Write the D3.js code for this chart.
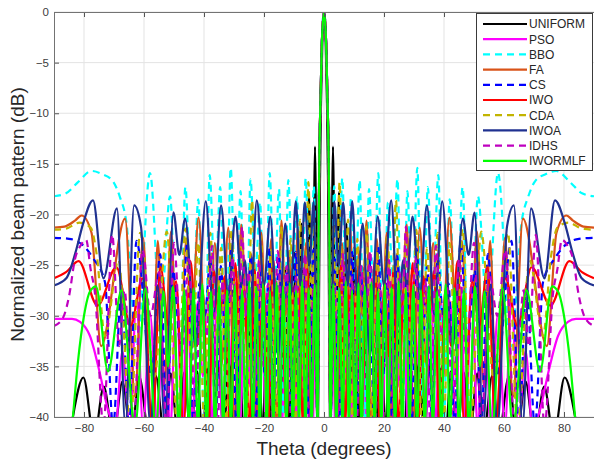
<!DOCTYPE html>
<html>
<head>
<meta charset="utf-8">
<script src="https://d3js.org/d3.v7.min.js"></script>
<style>
  body { margin: 0; background: #fff; }
  svg { display: block; font-family: "Liberation Sans", Arial, Helvetica, sans-serif; }
</style>
</head>
<body>
<div id="chart"></div>
<script>
// beam patterns, [theta (deg), level (dB)]
const uniform = [[-90,-52],[-86.5,-46],[-83.7,-40],[-80.2,-36.1],[-76.6,-42],[-73.4,-37],[-70.2,-42],[-67.2,-36.5],[-64.2,-42],[-61.6,-36],[-58.2,-42],[-56.1,-35.9],[-53.1,-42],[-51.1,-35.7],[-48.6,-42],[-46.6,-35.6],[-44.4,-42],[-42.3,-35.5],[-40.5,-42],[-38.7,-35.2],[-36.9,-42],[-35.2,-34.7],[-33.4,-42],[-31.7,-33.7],[-30,-42],[-28.4,-32.6],[-26.7,-42],[-25.1,-31.4],[-23.6,-42],[-22,-30],[-20.5,-42],[-18.9,-28.6],[-17.5,-42],[-15.9,-27],[-14.5,-42],[-12.9,-25.2],[-11.5,-42],[-10.1,-23.2],[-8.8,-42],[-7.5,-20.9],[-6.2,-42],[-5,-17.8],[-3.9,-42],[-3,-13.3],[-2.1,-42],[-1.7,-30],[-1.4,-18],[-1,-9],[-0.6,-3.4],
  [0,0],[0.6,-3.4],[1,-9],[1.4,-18],[1.7,-30],[2.1,-42],[3,-13.3],[3.9,-42],[5,-17.8],[6.2,-42],[7.5,-20.9],[8.8,-42],[10.1,-23.2],[11.5,-42],[12.9,-25.2],[14.5,-42],[15.9,-27],[17.5,-42],[18.9,-28.6],[20.5,-42],[22,-30],[23.6,-42],[25.1,-31.4],[26.7,-42],[28.4,-32.6],[30,-42],[31.7,-33.7],[33.4,-42],[35.2,-34.7],[36.9,-42],[38.7,-35.2],[40.5,-42],[42.3,-35.5],[44.4,-42],[46.6,-35.6],[48.6,-42],[51.1,-35.7],[53.1,-42],[56.1,-35.9],[58.2,-42],[61.6,-36],[64.2,-42],[67.2,-36.5],[70.2,-42],[73.4,-37],[76.6,-42],[80.2,-36.1],[83.7,-40],[86.5,-46],[90,-52]];

const pso = [[-90,-30.3],[-84,-30.3],[-81.3,-30.6],[-78,-32],[-74.7,-35.7],[-72,-39.3],[-69.5,-41],[-67.2,-33.5],[-64.8,-41],[-62.5,-28.3],[-60.3,-41],[-58,-29.8],[-55.5,-41],[-53.5,-27.2],[-51.2,-41],[-49.2,-26.9],[-47.3,-41],[-45.5,-27.2],[-43.9,-41],[-42.1,-28.6],[-40.4,-36],[-38.8,-27.9],[-37.2,-41],[-35.5,-25.8],[-33.9,-41],[-32.3,-29.4],[-30.8,-35],[-29.4,-26.7],[-28,-41],[-26.5,-27.6],[-25,-37],[-23.5,-25.4],[-22.2,-41],[-20.8,-29.1],[-19.3,-41],[-17.8,-26.3],[-16.6,-34],[-15.3,-28.2],[-14,-41],[-12.6,-25.7],[-11.4,-36],[-10.2,-28.8],[-9,-41],[-7.7,-26.5],[-6.5,-41],[-5.1,-29],[-3.9,-44],[-3,-31],[-2.1,-41],[-1.8,-22],[-1.5,-13.5],[-1.1,-8],[-0.7,-3],
  [0,0],[0.7,-3],[1.1,-8],[1.5,-13.5],[1.8,-22],[2.1,-41],[3,-31],[3.9,-44],[5.1,-29],[6.5,-41],[7.7,-26.5],[9,-41],[10.2,-28.8],[11.4,-36],[12.6,-25.7],[14,-41],[15.3,-28.2],[16.6,-34],[17.8,-26.3],[19.3,-41],[20.8,-29.1],[22.2,-41],[23.5,-25.4],[25,-37],[26.5,-27.6],[28,-41],[29.4,-26.7],[30.8,-35],[32.3,-29.4],[33.9,-41],[35.5,-25.8],[37.2,-41],[38.8,-27.9],[40.4,-36],[42.1,-28.6],[43.9,-41],[45.5,-27.2],[47.3,-41],[49.2,-26.9],[51.2,-41],[53.5,-27.2],[55.5,-41],[58,-29.8],[60.3,-41],[62.5,-28.3],[64.8,-41],[67.2,-33.5],[69.5,-41],[72,-39.3],[74.7,-35.7],[78,-32],[81.3,-30.6],[84,-30.3],[90,-30.3]];

const bbo = [[-90,-18.2],[-86,-17.9],[-82,-16.8],[-77.5,-15.7],[-74,-16],[-70.4,-16.7],[-68,-18.3],[-66,-20.5],[-62.3,-33],[-58,-15.9],[-54.5,-30],[-51.3,-18.2],[-48.4,-41],[-46.2,-17.3],[-44,-33],[-41.9,-18.5],[-39.9,-41],[-38.1,-16.1],[-36.3,-28],[-34.6,-17.3],[-32.8,-38],[-31.1,-15.4],[-29.4,-31],[-27.8,-17.7],[-26.1,-41],[-24.5,-16.5],[-22.9,-26],[-21.3,-18.8],[-19.7,-36],[-18.1,-15.9],[-16.6,-29],[-15,-17.5],[-13.5,-41],[-11.9,-16.6],[-10.5,-27],[-9,-18.3],[-7.6,-34],[-6.1,-16.4],[-4.7,-30],[-3.4,-17.2],[-2.1,-41],[-1.8,-22],[-1.5,-13.5],[-1.1,-8],[-0.7,-3],
  [0,0],[0.7,-3],[1.1,-8],[1.5,-13.5],[1.8,-22],[2.1,-41],[3.4,-17.2],[4.7,-30],[6.1,-16.4],[7.6,-34],[9,-18.3],[10.5,-27],[11.9,-16.6],[13.5,-41],[15,-17.5],[16.6,-29],[18.1,-15.9],[19.7,-36],[21.3,-18.8],[22.9,-26],[24.5,-16.5],[26.1,-41],[27.8,-17.7],[29.4,-31],[31.1,-15.4],[32.8,-38],[34.6,-17.3],[36.3,-28],[38.1,-16.1],[39.9,-41],[41.9,-18.5],[44,-33],[46.2,-17.3],[48.4,-41],[51.3,-18.2],[54.5,-30],[58,-15.9],[62.3,-33],[66,-20.5],[68,-18.3],[70.4,-16.7],[74,-16],[77.5,-15.7],[82,-16.8],[86,-17.9],[90,-18.2]];

const fa = [[-90,-21.3],[-86.5,-21.2],[-83,-20.6],[-80.8,-20.1],[-77.5,-21.8],[-74.3,-33],[-66.3,-20.4],[-63,-38],[-60.3,-22.3],[-57.5,-41],[-55.4,-22.6],[-53.3,-37],[-51,-21.7],[-48.3,-41],[-46,-22.6],[-44,-30],[-41.8,-20.3],[-38.7,-41],[-36.4,-22.8],[-34.2,-35],[-31.9,-21.3],[-29.6,-41],[-27.6,-21],[-25.8,-30],[-24.2,-23.9],[-22.6,-41],[-20.9,-21.8],[-19.2,-34],[-17.6,-22.4],[-15.9,-41],[-14.2,-20.6],[-12.8,-30],[-11.6,-23.6],[-10.2,-41],[-8.8,-21.4],[-7.4,-33],[-6,-22.8],[-4.6,-41],[-3.3,-24.5],[-2.1,-41],[-1.8,-22],[-1.5,-13.5],[-1.1,-8],[-0.7,-3],
  [0,0],[0.7,-3],[1.1,-8],[1.5,-13.5],[1.8,-22],[2.1,-41],[3.3,-24.5],[4.6,-41],[6,-22.8],[7.4,-33],[8.8,-21.4],[10.2,-41],[11.6,-23.6],[12.8,-30],[14.2,-20.6],[15.9,-41],[17.6,-22.4],[19.2,-34],[20.9,-21.8],[22.6,-41],[24.2,-23.9],[25.8,-30],[27.6,-21],[29.6,-41],[31.9,-21.3],[34.2,-35],[36.4,-22.8],[38.7,-41],[41.8,-20.3],[44,-30],[46,-22.6],[48.3,-41],[51,-21.7],[53.3,-37],[55.4,-22.6],[57.5,-41],[60.3,-22.3],[63,-38],[66.3,-20.4],[74.3,-33],[77.5,-21.8],[80.8,-20.1],[83,-20.6],[86.5,-21.2],[90,-21.3]];

const cs = [[-90,-22.3],[-85,-22.4],[-80.5,-23],[-77,-24.3],[-73,-26.7],[-70.3,-41],[-67.5,-27],[-65,-41],[-62.5,-22.6],[-57.5,-36],[-54.6,-23.9],[-52.4,-41],[-50.3,-25.5],[-47.8,-33],[-45.5,-22.7],[-43.5,-41],[-41.5,-26.8],[-39.7,-30],[-37.9,-24.3],[-36.1,-41],[-34.4,-25.1],[-32.6,-35],[-30.9,-23.4],[-29.2,-41],[-27.6,-26.4],[-25.9,-31],[-24.3,-23.9],[-22.8,-41],[-21.2,-25.6],[-19.7,-36],[-18.1,-23.2],[-16.7,-41],[-15.1,-24.2],[-13.7,-31],[-12.2,-25.8],[-10.8,-41],[-9.4,-23.7],[-7.9,-34],[-6.4,-26],[-5,-41],[-3.6,-23.5],[-2.1,-41],[-1.8,-22],[-1.5,-13.5],[-1.1,-8],[-0.7,-3],
  [0,0],[0.7,-3],[1.1,-8],[1.5,-13.5],[1.8,-22],[2.1,-41],[3.6,-23.5],[5,-41],[6.4,-26],[7.9,-34],[9.4,-23.7],[10.8,-41],[12.2,-25.8],[13.7,-31],[15.1,-24.2],[16.7,-41],[18.1,-23.2],[19.7,-36],[21.2,-25.6],[22.8,-41],[24.3,-23.9],[25.9,-31],[27.6,-26.4],[29.2,-41],[30.9,-23.4],[32.6,-35],[34.4,-25.1],[36.1,-41],[37.9,-24.3],[39.7,-30],[41.5,-26.8],[43.5,-41],[45.5,-22.7],[47.8,-33],[50.3,-25.5],[52.4,-41],[54.6,-23.9],[57.5,-36],[62.5,-22.6],[65,-41],[67.5,-27],[70.3,-41],[73,-26.7],[77,-24.3],[80.5,-23],[85,-22.4],[90,-22.3]];

const iwo = [[-90,-26.3],[-86,-25.7],[-81.8,-24.6],[-75.5,-29],[-69.2,-25.2],[-64.5,-31],[-60.5,-26.3],[-57.2,-41],[-54.5,-25.2],[-51.8,-31],[-49.3,-26.6],[-46.8,-41],[-44.5,-24.6],[-42.4,-33],[-40.4,-27.5],[-38.6,-41],[-36.7,-25.6],[-34.9,-30.5],[-33.1,-26.1],[-31.4,-41],[-29.6,-24.8],[-28,-32],[-26.5,-27.4],[-24.9,-41],[-23.2,-25.3],[-21.6,-34],[-20.1,-26.5],[-18.6,-41],[-17,-24.4],[-15.5,-31],[-14,-27.8],[-12.5,-41],[-11,-25.6],[-9.7,-33],[-8.4,-27.3],[-7,-41],[-5.6,-24.7],[-4.2,-41],[-3,-26.4],[-2.1,-41],[-1.8,-22],[-1.5,-13.5],[-1.1,-8],[-0.7,-3],
  [0,0],[0.7,-3],[1.1,-8],[1.5,-13.5],[1.8,-22],[2.1,-41],[3,-26.4],[4.2,-41],[5.6,-24.7],[7,-41],[8.4,-27.3],[9.7,-33],[11,-25.6],[12.5,-41],[14,-27.8],[15.5,-31],[17,-24.4],[18.6,-41],[20.1,-26.5],[21.6,-34],[23.2,-25.3],[24.9,-41],[26.5,-27.4],[28,-32],[29.6,-24.8],[31.4,-41],[33.1,-26.1],[34.9,-30.5],[36.7,-25.6],[38.6,-41],[40.4,-27.5],[42.4,-33],[44.5,-24.6],[46.8,-41],[49.3,-26.6],[51.8,-31],[54.5,-25.2],[57.2,-41],[60.5,-26.3],[64.5,-31],[69.2,-25.2],[75.5,-29],[81.8,-24.6],[86,-25.7],[90,-26.3]];

const cda = [[-90,-21.5],[-86,-21.4],[-81.5,-20.8],[-77.8,-21.3],[-75.7,-24.1],[-73,-32],[-68.5,-24.5],[-64.5,-41],[-61.3,-21.8],[-56.5,-36],[-52.4,-21.7],[-48.9,-41],[-46.2,-21.4],[-44,-36],[-41.9,-22.8],[-39.9,-41],[-37.9,-21.8],[-36.1,-32],[-34.3,-23.3],[-32.6,-41],[-30.8,-21.5],[-29.2,-35],[-27.5,-22.7],[-25.8,-41],[-24,-18.6],[-22.5,-30],[-21.1,-22.1],[-19.4,-34],[-17.6,-23.5],[-15.9,-41],[-14.1,-21.2],[-12.6,-33],[-11.1,-22.4],[-9.6,-41],[-8,-20.5],[-6.6,-38],[-5.2,-16.8],[-4,-30],[-3.1,-21],[-2.1,-41],[-1.8,-22],[-1.5,-13.5],[-1.1,-8],[-0.7,-3],
  [0,0],[0.7,-3],[1.1,-8],[1.5,-13.5],[1.8,-22],[2.1,-41],[3.1,-21],[4,-30],[5.2,-16.8],[6.6,-38],[8,-20.5],[9.6,-41],[11.1,-22.4],[12.6,-33],[14.1,-21.2],[15.9,-41],[17.6,-23.5],[19.4,-34],[21.1,-22.1],[22.5,-30],[24,-18.6],[25.8,-41],[27.5,-22.7],[29.2,-35],[30.8,-21.5],[32.6,-41],[34.3,-23.3],[36.1,-32],[37.9,-21.8],[39.9,-41],[41.9,-22.8],[44,-36],[46.2,-21.4],[48.9,-41],[52.4,-21.7],[56.5,-36],[61.3,-21.8],[64.5,-41],[68.5,-24.5],[73,-32],[75.7,-24.1],[77.8,-21.3],[81.5,-20.8],[86,-21.4],[90,-21.5]];

const iwoa = [[-90,-27],[-85.9,-26.3],[-82.6,-23.5],[-80.3,-20.9],[-77,-18.6],[-73.5,-26.3],[-69,-19.4],[-66.2,-41],[-63.3,-19.1],[-61,-21.2],[-57.8,-41],[-55.5,-27],[-53,-41],[-50.2,-19.8],[-48.2,-24],[-46.3,-20.4],[-42.8,-33],[-39.4,-18.7],[-36.8,-30],[-34.3,-19.1],[-31.9,-28],[-29.5,-20.2],[-27.5,-27],[-26.4,-24.5],[-24.7,-31],[-22.4,-18.6],[-20,-27],[-17.9,-20.2],[-15.3,-34],[-12.9,-20.9],[-11.1,-28],[-9.4,-18.7],[-7.9,-27],[-6.4,-18.8],[-4.9,-25],[-3.4,-18.7],[-2.1,-41],[-1.8,-22],[-1.5,-13.5],[-1.1,-8],[-0.7,-3],
  [0,0],[0.7,-3],[1.1,-8],[1.5,-13.5],[1.8,-22],[2.1,-41],[3.4,-18.7],[4.9,-25],[6.4,-18.8],[7.9,-27],[9.4,-18.7],[11.1,-28],[12.9,-20.9],[15.3,-34],[17.9,-20.2],[20,-27],[22.4,-18.6],[24.7,-31],[26.4,-24.5],[27.5,-27],[29.5,-20.2],[31.9,-28],[34.3,-19.1],[36.8,-30],[39.4,-18.7],[42.8,-33],[46.3,-20.4],[48.2,-24],[50.2,-19.8],[53,-41],[55.5,-27],[57.8,-41],[61,-21.2],[63.3,-19.1],[66.2,-41],[69,-19.4],[73.5,-26.3],[77,-18.6],[80.3,-20.9],[82.6,-23.5],[85.9,-26.3],[90,-27]];

const idhs = [[-90,-31],[-87,-30.2],[-85,-28.1],[-83,-24.4],[-81,-23],[-79.3,-22.5],[-77.8,-25.4],[-76.3,-27.9],[-73.5,-41],[-70.6,-22],[-68.3,-33],[-66.5,-27.5],[-63.5,-41],[-60.5,-23.5],[-57.8,-30],[-55,-25.7],[-52.5,-41],[-50,-22.8],[-47.5,-34],[-45,-24.4],[-43,-41],[-41,-27.2],[-39.2,-32],[-37.3,-23.1],[-35.5,-41],[-33.8,-26.5],[-32.2,-33],[-30.4,-24.2],[-28.8,-41],[-27.3,-21.2],[-26.1,-30],[-25.2,-25.7],[-23.3,-41],[-21.7,-24.5],[-20.2,-35],[-18.6,-26.8],[-17.1,-41],[-15.4,-23.6],[-13.9,-31],[-12.4,-25.1],[-10.9,-41],[-9.3,-26.2],[-7.8,-33],[-6.3,-23.9],[-4.9,-41],[-3.5,-27],[-2.1,-41],[-1.8,-22],[-1.5,-13.5],[-1.1,-8],[-0.7,-3],
  [0,0],[0.7,-3],[1.1,-8],[1.5,-13.5],[1.8,-22],[2.1,-41],[3.5,-27],[4.9,-41],[6.3,-23.9],[7.8,-33],[9.3,-26.2],[10.9,-41],[12.4,-25.1],[13.9,-31],[15.4,-23.6],[17.1,-41],[18.6,-26.8],[20.2,-35],[21.7,-24.5],[23.3,-41],[25.2,-25.7],[26.1,-30],[27.3,-21.2],[28.8,-41],[30.4,-24.2],[32.2,-33],[33.8,-26.5],[35.5,-41],[37.3,-23.1],[39.2,-32],[41,-27.2],[43,-41],[45,-24.4],[47.5,-34],[50,-22.8],[52.5,-41],[55,-25.7],[57.8,-30],[60.5,-23.5],[63.5,-41],[66.5,-27.5],[68.3,-33],[70.6,-22],[73.5,-41],[76.3,-27.9],[77.8,-25.4],[79.3,-22.5],[81,-23],[83,-24.4],[85,-28.1],[87,-30.2],[90,-31]];

const iwormlf = [[-90,-52],[-85.5,-46],[-83.7,-40],[-82,-34.5],[-80,-30],[-78,-27.6],[-76,-27.1],[-72,-35.5],[-67.5,-27.5],[-63,-41],[-59.5,-27.3],[-56,-41],[-53.5,-27.6],[-52,-35],[-50.3,-27.1],[-48.3,-41],[-46.6,-27.5],[-45,-41],[-43.5,-27.3],[-42,-41],[-40.55,-26.9],[-39.1,-41],[-37.7,-27.6],[-36.3,-41],[-34.95,-27.1],[-33.6,-41],[-32.3,-27.5],[-31,-41],[-29.75,-27],[-28.5,-41],[-27.3,-27.4],[-26.1,-41],[-24.9,-26.6],[-23.7,-41],[-22.55,-27.2],[-21.4,-41],[-20.25,-26.9],[-19.1,-41],[-18,-27.6],[-16.9,-41],[-15.8,-26.7],[-14.7,-41],[-13.6,-27.1],[-12.5,-41],[-11.45,-26.8],[-10.4,-41],[-9.35,-27.5],[-8.3,-41],[-7.25,-26.6],[-6.2,-41],[-5.15,-27.3],[-4.1,-41],[-3.1,-26.9],[-2.1,-41],[-1.8,-22],[-1.5,-13.5],[-1.1,-8],[-0.7,-3],
  [0,0],[0.7,-3],[1.1,-8],[1.5,-13.5],[1.8,-22],[2.1,-41],[3.1,-26.9],[4.1,-41],[5.15,-27.3],[6.2,-41],[7.25,-26.6],[8.3,-41],[9.35,-27.5],[10.4,-41],[11.45,-26.8],[12.5,-41],[13.6,-27.1],[14.7,-41],[15.8,-26.7],[16.9,-41],[18,-27.6],[19.1,-41],[20.25,-26.9],[21.4,-41],[22.55,-27.2],[23.7,-41],[24.9,-26.6],[26.1,-41],[27.3,-27.4],[28.5,-41],[29.75,-27],[31,-41],[32.3,-27.5],[33.6,-41],[34.95,-27.1],[36.3,-41],[37.7,-27.6],[39.1,-41],[40.55,-26.9],[42,-41],[43.5,-27.3],[45,-41],[46.6,-27.5],[48.3,-41],[50.3,-27.1],[52,-35],[53.5,-27.6],[56,-41],[59.5,-27.3],[63,-41],[67.5,-27.5],[72,-35.5],[76,-27.1],[78,-27.6],[80,-30],[82,-34.5],[83.7,-40],[85.5,-46],[90,-52]];

const seriesNames = ["UNIFORM", "PSO", "BBO", "FA", "CS", "IWO", "CDA", "IWOA", "IDHS", "IWORMLF"];
const seriesData = [uniform, pso, bbo, fa, cs, iwo, cda, iwoa, idhs, iwormlf];
const xTicks = [-80, -60, -40, -20, 0, 20, 40, 60, 80];
const yTicks = [0, -5, -10, -15, -20, -25, -30, -35, -40];

// line styles, in legend order
const styles = [
  { color: "#000000", dash: null },
  { color: "#ff00ff", dash: null },
  { color: "#00ffff", dash: "7,5" },
  { color: "#d95319", dash: null },
  { color: "#0000ff", dash: "7,5" },
  { color: "#ff0000", dash: null },
  { color: "#c2b400", dash: "7,5" },
  { color: "#1f3190", dash: null },
  { color: "#bf00bf", dash: "7,5" },
  { color: "#00ff00", dash: null }
];

const W = 594, H = 465;
const pLeft = 54, pRight = 594, pTop = 12, pBottom = 417;

const x = d3.scaleLinear().domain([-90, 90]).range([pLeft, pRight]);
const y = d3.scaleLinear().domain([-40, 0]).range([pBottom, pTop]);

const svg = d3.select("#chart").append("svg")
  .attr("width", W)
  .attr("height", H);

svg.append("rect")
  .attr("width", W).attr("height", H)
  .attr("fill", "#fff");

// grid
svg.append("g").selectAll("line")
  .data(xTicks)
  .enter().append("line")
  .attr("x1", d => x(d)).attr("x2", d => x(d))
  .attr("y1", pTop).attr("y2", pBottom)
  .attr("stroke", "#e3e3e3").attr("stroke-width", 1);

svg.append("g").selectAll("line")
  .data(yTicks)
  .enter().append("line")
  .attr("x1", pLeft).attr("x2", pRight)
  .attr("y1", d => y(d)).attr("y2", d => y(d))
  .attr("stroke", "#e3e3e3").attr("stroke-width", 1);

// curves
svg.append("clipPath").attr("id", "plotclip")
  .append("rect")
  .attr("x", pLeft).attr("y", pTop)
  .attr("width", pRight - pLeft).attr("height", pBottom - pTop);

const line = d3.line()
  .x(d => x(d[0]))
  .y(d => y(d[1]))
  .curve(d3.curveMonotoneX);

const curves = svg.append("g").attr("clip-path", "url(#plotclip)");
seriesData.forEach(function(data, i){
  curves.append("path")
    .datum(data)
    .attr("d", line)
    .attr("fill", "none")
    .attr("stroke", styles[i].color)
    .attr("stroke-width", 2.2)
    .attr("stroke-linejoin", "round")
    .attr("stroke-dasharray", styles[i].dash);
});

// axes
const xAxis = d3.axisBottom(x).tickValues(xTicks).tickSize(-5).tickPadding(7);
const yAxis = d3.axisLeft(y).tickValues(yTicks).tickSize(-5).tickPadding(5);
const xTop = d3.axisTop(x).tickValues(xTicks).tickSize(-5).tickFormat("");

function styleAxis(g){
  g.select(".domain").remove();
  g.selectAll(".tick line").attr("stroke", "#555");
  g.selectAll(".tick text")
    .attr("fill", "#404040")
    .style("font-size", "11.5px")
    .style("font-family", "'Liberation Sans', Arial, sans-serif");
}

svg.append("g")
  .attr("transform", "translate(0," + pBottom + ")")
  .call(xAxis).call(styleAxis);
svg.append("g")
  .attr("transform", "translate(" + pLeft + ",0)")
  .call(yAxis).call(styleAxis);
svg.append("g")
  .attr("transform", "translate(0," + pTop + ")")
  .call(xTop).call(styleAxis);

// box
svg.append("rect")
  .attr("x", pLeft + 0.5).attr("y", pTop + 0.5)
  .attr("width", pRight - pLeft).attr("height", pBottom - pTop)
  .attr("fill", "none")
  .attr("stroke", "#737373")
  .attr("stroke-width", 1);

// axis labels
svg.append("text")
  .attr("x", (pLeft + pRight) / 2)
  .attr("y", 455)
  .attr("text-anchor", "middle")
  .attr("fill", "#262626")
  .style("font-size", "19px")
  .text("Theta (degrees)");

svg.append("text")
  .attr("transform", "translate(24," + ((pTop + pBottom) / 2) + ")rotate(-90)")
  .attr("text-anchor", "middle")
  .attr("fill", "#262626")
  .style("font-size", "19px")
  .text("Normalized beam pattern (dB)");

// legend
const legend = svg.append("g");
legend.append("rect")
  .attr("x", 476.5).attr("y", 13.5)
  .attr("width", 116).attr("height", 157)
  .attr("fill", "#fff")
  .attr("stroke", "#3a3a3a")
  .attr("stroke-width", 1);

seriesNames.forEach(function(name, i){
  const ly = 24 + i * 15.2;
  legend.append("line")
    .attr("x1", 483).attr("x2", 527)
    .attr("y1", ly).attr("y2", ly)
    .attr("stroke", styles[i].color)
    .attr("stroke-width", 2.2)
    .attr("stroke-dasharray", styles[i].dash);
  legend.append("text")
    .attr("x", 529)
    .attr("y", ly + 4.3)
    .attr("fill", "#262626")
    .style("font-size", "12px")
    .text(name);
});
</script>
</body>
</html>
